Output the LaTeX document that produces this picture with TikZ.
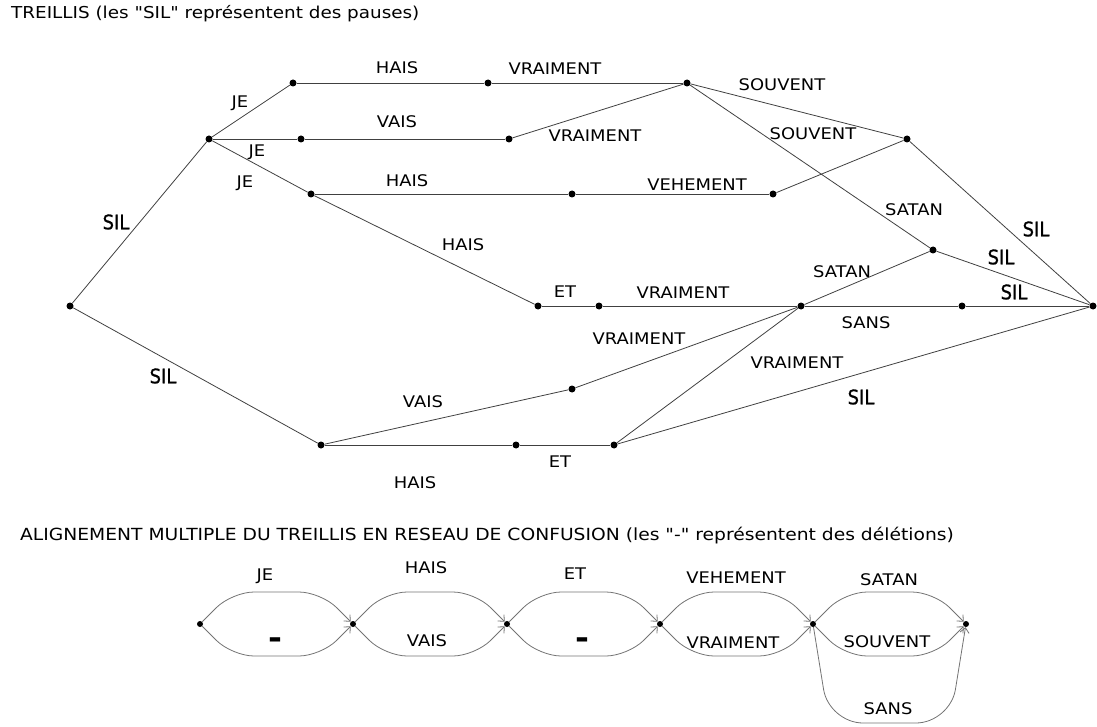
\documentclass[tikz,border=0pt]{standalone}
\usepackage{fontspec}
\setmainfont{DejaVu Sans}[FakeStretch=1.12,Ligatures=TeXOff]
\newfontfamily\silfont{DejaVu Sans Condensed}[FakeBold=1]
\usetikzlibrary{arrows.meta,calc}
\begin{document}
\begin{tikzpicture}[x=1pt,y=-1pt,
dot/.style={circle,fill,inner sep=0pt,minimum size=7pt},
sdot/.style={circle,fill,inner sep=0pt,minimum size=6pt},
lbl/.style={inner sep=0pt,font=\fontsize{16}{19}\selectfont},
sil/.style={inner sep=0pt,font=\silfont\fontsize{20}{24}\selectfont},
ttl/.style={inner sep=0pt,anchor=west},
del/.style={inner sep=0pt,font=\fontsize{30}{30}\selectfont\bfseries},
edg/.style={line width=0.8pt,black!75},
arc/.style={rounded corners=22pt,line width=0.8pt,black!55,-{Straight Barb[length=5pt,width=9pt]}}
]
\useasboundingbox(0,0)rectangle(1097,727);
\node[ttl,font=\fontsize{16.4}{19}\selectfont](tt1)at(11,14){TREILLIS (les "SIL" représentent des pauses)};
\node[ttl,font=\fontsize{16.7}{20}\selectfont](tt2)at(20,536){ALIGNEMENT MULTIPLE DU TREILLIS EN RESEAU DE CONFUSION (les "-" représentent des délétions)};
% treillis
\node[dot](st)at(70,306){};
\node[dot](br)at(209,139){};
\node[dot](je1)at(293,83){};
\node[dot](hs1)at(488,83){};
\node[dot](vr1)at(687,83){};
\node[dot](je2)at(301,139){};
\node[dot](vs1)at(509,139){};
\node[dot](je3)at(311,194){};
\node[dot](hs2)at(572,194){};
\node[dot](vh1)at(773,194){};
\node[dot](sv1)at(907,139){};
\node[dot](sa1)at(933,250){};
\node[dot](hs3)at(538,306){};
\node[dot](et1)at(599,306){};
\node[dot](vr2)at(801,306){};
\node[dot](sn1)at(962,306){};
\node[dot](fin)at(1093,306){};
\node[dot](sl1)at(321,445){};
\node[dot](vs2)at(572,389){};
\node[dot](hs4)at(516,445){};
\node[dot](et2)at(614,445){};
\draw[edg](st)--(br);
\draw[edg](st)--(sl1);
\draw[edg](br)--(je1);
\draw[edg](je1)--(hs1);
\draw[edg](hs1)--(vr1);
\draw[edg](br)--(je2);
\draw[edg](je2)--(vs1);
\draw[edg](vs1)--(vr1);
\draw[edg](br)--(je3);
\draw[edg](je3)--(hs2);
\draw[edg](hs2)--(vh1);
\draw[edg](vh1)--(sv1);
\draw[edg](vr1)--(sv1);
\draw[edg](vr1)--(sa1);
\draw[edg](je3)--(hs3);
\draw[edg](hs3)--(et1);
\draw[edg](et1)--(vr2);
\draw[edg](vr2)--(sa1);
\draw[edg](sa1)--(fin);
\draw[edg](sv1)--(fin);
\draw[edg](vr2)--(sn1);
\draw[edg](sn1)--(fin);
\draw[edg](vs2)--(vr2);
\draw[edg](et2)--(vr2);
\draw[edg](et2)--(fin);
\draw[edg](sl1)--(vs2);
\draw[edg](sl1)--(hs4);
\draw[edg](hs4)--(et2);
\node[sil](w1)at(116,222){SIL};
\node[sil](w2)at(163,376){SIL};
\node[lbl](w3)at(240,103){JE};
\node[lbl](w4)at(397,68){HAIS};
\node[lbl](w5)at(555,69){VRAIMENT};
\node[lbl](w6)at(257,152){JE};
\node[lbl](w7)at(397,122){VAIS};
\node[lbl](w8)at(595,136){VRAIMENT};
\node[lbl](w9)at(245,183){JE};
\node[lbl](w10)at(407,181){HAIS};
\node[lbl](w11)at(697,185){VEHEMENT};
\node[lbl](w12)at(782,85){SOUVENT};
\node[lbl](w13)at(813,134){SOUVENT};
\node[lbl](w14)at(914,210){SATAN};
\node[lbl](w15)at(463,245){HAIS};
\node[lbl](w16)at(565,292){ET};
\node[lbl](w17)at(683,293){VRAIMENT};
\node[lbl](w18)at(842,272){SATAN};
\node[sil](w19)at(1001,257){SIL};
\node[sil](w20)at(1036,229){SIL};
\node[lbl](w21)at(866,323){SANS};
\node[sil](w22)at(1014,292){SIL};
\node[lbl](w23)at(639,339){VRAIMENT};
\node[lbl](w24)at(797,363){VRAIMENT};
\node[sil](w25)at(861,397){SIL};
\node[lbl](w26)at(423,402){VAIS};
\node[lbl](w27)at(415,483){HAIS};
\node[lbl](w28)at(560,462){ET};
% reseau de confusion
\node[sdot](cf0)at(200,624){};
\node[sdot](cf1)at(353,624){};
\node[sdot](cf2)at(507,624){};
\node[sdot](cf3)at(660,624){};
\node[sdot](cf4)at(813,624){};
\node[sdot](cf5)at(966,624){};
\draw[arc](cf0)--($(cf0)+(32,-32)$)--($(cf1)+(-32,-32)$)--(cf1);
\draw[arc](cf0)--($(cf0)+(32,32)$)--($(cf1)+(-32,32)$)--(cf1);
\draw[arc](cf1)--($(cf1)+(32,-32)$)--($(cf2)+(-32,-32)$)--(cf2);
\draw[arc](cf1)--($(cf1)+(32,32)$)--($(cf2)+(-32,32)$)--(cf2);
\draw[arc](cf2)--($(cf2)+(32,-32)$)--($(cf3)+(-32,-32)$)--(cf3);
\draw[arc](cf2)--($(cf2)+(32,32)$)--($(cf3)+(-32,32)$)--(cf3);
\draw[arc](cf3)--($(cf3)+(32,-32)$)--($(cf4)+(-32,-32)$)--(cf4);
\draw[arc](cf3)--($(cf3)+(32,32)$)--($(cf4)+(-32,32)$)--(cf4);
\draw[arc](cf4)--($(cf4)+(32,-32)$)--($(cf5)+(-32,-32)$)--(cf5);
\draw[arc](cf4)--($(cf4)+(32,32)$)--($(cf5)+(-32,32)$)--(cf5);
\draw[arc,rounded corners=34pt](cf4)--($(cf4)+(16,99)$)--($(cf5)+(-16,99)$)--(cf5);
\node[lbl](v1)at(265,576){JE};
\node[del](v2)at(275,643){-};
\node[lbl](v3)at(426,568){HAIS};
\node[lbl](v4)at(427,641){VAIS};
\node[lbl](v5)at(575,574){ET};
\node[del](v6)at(582,643){-};
\node[lbl](v7)at(736,578){VEHEMENT};
\node[lbl](v8)at(733,643){VRAIMENT};
\node[lbl](v9)at(889,580){SATAN};
\node[lbl](v10)at(887,642){SOUVENT};
\node[lbl](v11)at(888,709){SANS};
\end{tikzpicture}
\end{document}
